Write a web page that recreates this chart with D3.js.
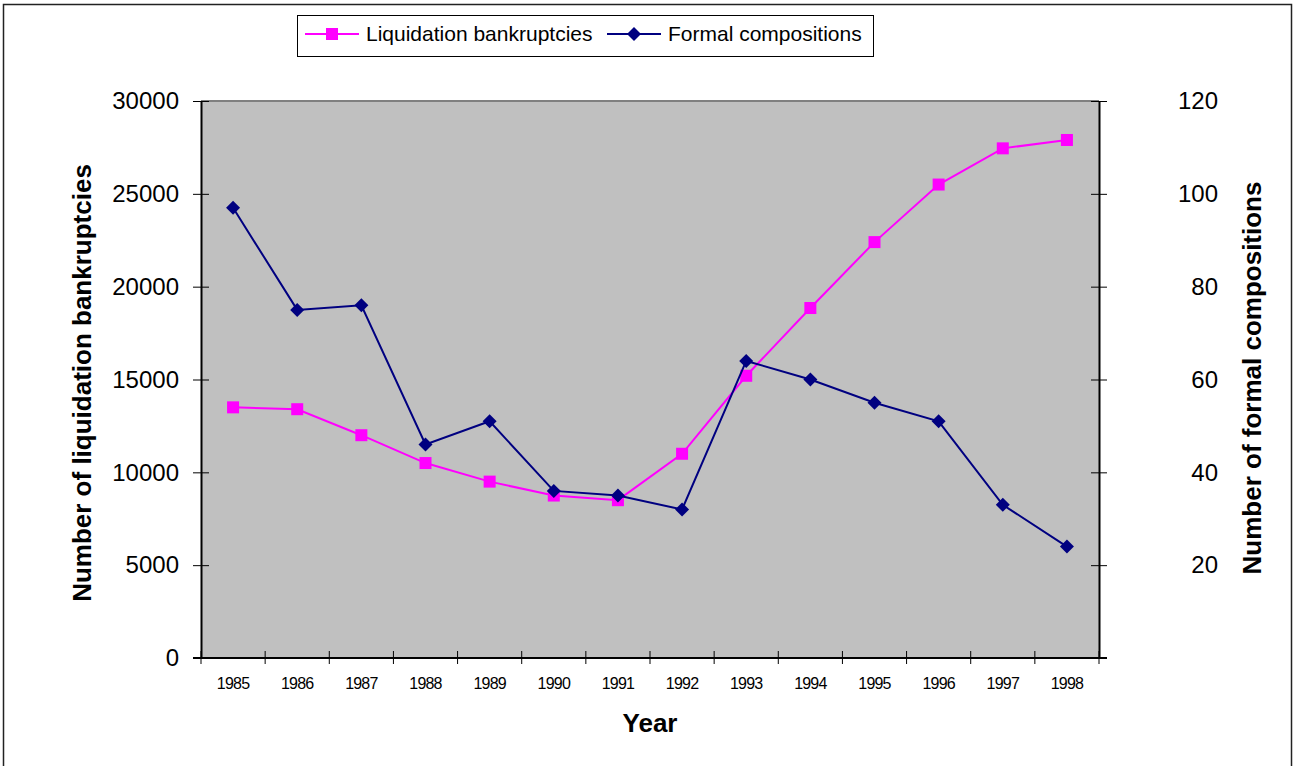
<!DOCTYPE html>
<html><head><meta charset="utf-8">
<script src="https://cdn.jsdelivr.net/npm/d3@7"></script>
<style>body{margin:0;background:#fff}svg{display:block}</style>
</head><body>
<svg id="c" width="1298" height="766"></svg>
<script>
const years = ["1985","1986","1987","1988","1989","1990","1991","1992","1993","1994","1995","1996","1997","1998"];
const liquidation = [13500,13400,12000,10500,9500,8750,8500,11000,15200,18850,22400,25500,27450,27900];
const compositions = [97,75,76,46,51,36,35,32,64,60,55,51,33,24];
const leftTicks = [0,5000,10000,15000,20000,25000,30000];
const rightTicks = [20,40,60,80,100,120];

const svg = d3.select("#c");
const font = "'Liberation Sans', Arial, sans-serif";
const L = 201, R = 1099, T = 101, B = 658;

svg.append("rect").attr("x",3.5).attr("y",4.5).attr("width",1288).attr("height",770)
  .attr("fill","#fff").attr("stroke","#222").attr("stroke-width",1.5);

const x = d3.scaleBand().domain(years).range([L,R]);
const yL = d3.scaleLinear().domain([0,30000]).range([B,T]);
const yR = d3.scaleLinear().domain([0,120]).range([B,T]);

svg.append("rect").attr("x",L).attr("y",T).attr("width",R-L).attr("height",B-T).attr("fill","#C0C0C0");
svg.append("line").attr("x1",L).attr("x2",R).attr("y1",T).attr("y2",T).attr("stroke","#808080").attr("stroke-width",2);

// left axis
const gl = svg.append("g").attr("transform",`translate(${L},0)`)
  .call(d3.axisLeft(yL).tickValues(leftTicks).tickSizeInner(8).tickSizeOuter(0).tickPadding(14).tickFormat(d3.format("d")));
gl.selectAll(".tick line").attr("x2",8).attr("x1",-8);
// right axis
const gr = svg.append("g").attr("transform",`translate(${R},0)`)
  .call(d3.axisRight(yR).tickValues(rightTicks).tickSizeInner(8).tickSizeOuter(0).tickPadding(111).tickFormat(d3.format("d")));
gr.selectAll(".tick line").attr("x1",-8).attr("x2",8);
gr.selectAll(".tick text").attr("text-anchor","end");
[gl,gr].forEach(g=>{
  g.select(".domain").attr("stroke","#000").attr("stroke-width",2);
  g.selectAll(".tick line").attr("stroke","#000");
  g.selectAll(".tick text").attr("font-family",font).attr("font-size",24).attr("fill","#000");
});

// bottom axis
const gb = svg.append("g").attr("transform",`translate(0,${B})`)
  .call(d3.axisBottom(x).tickSize(0).tickPadding(20));
gb.select(".domain").remove();
svg.append("line").attr("x1",L-8).attr("x2",R+8).attr("y1",B).attr("y2",B).attr("stroke","#000").attr("stroke-width",2);
gb.selectAll(".tick text").attr("font-family",font).attr("font-size",16).attr("letter-spacing","-0.8").attr("fill","#000");
const edges = years.map(d=>x(d)).concat([R]);
svg.append("g").selectAll("line").data(edges).join("line")
  .attr("x1",d=>d).attr("x2",d=>d).attr("y1",B-7).attr("y2",B+6).attr("stroke","#000").attr("stroke-width",1);

const cx = d=>x(d)+x.bandwidth()/2;

// liquidation line
svg.append("path").datum(liquidation).attr("fill","none").attr("stroke","#FF00FF").attr("stroke-width",2)
  .attr("d", d3.line().x((d,i)=>cx(years[i])).y(d=>yL(d)));
svg.append("g").selectAll("rect").data(liquidation).join("rect")
  .attr("x",(d,i)=>cx(years[i])-6).attr("y",d=>yL(d)-6).attr("width",12).attr("height",12).attr("fill","#FF00FF");

// compositions line
svg.append("path").datum(compositions).attr("fill","none").attr("stroke","#000080").attr("stroke-width",2)
  .attr("d", d3.line().x((d,i)=>cx(years[i])).y(d=>yR(d)));
const diamond = "M0,-7L7,0L0,7L-7,0Z";
svg.append("g").selectAll("path").data(compositions).join("path")
  .attr("transform",(d,i)=>`translate(${cx(years[i])},${yR(d)})`).attr("d",diamond).attr("fill","#000080");

// axis titles
svg.append("text").attr("transform",`translate(91,383) rotate(-90)`).attr("text-anchor","middle")
  .attr("font-family",font).attr("font-size",26).attr("font-weight","bold").text("Number of liquidation bankruptcies");
svg.append("text").attr("transform",`translate(1261,378) rotate(-90)`).attr("text-anchor","middle")
  .attr("font-family",font).attr("font-size",26).attr("font-weight","bold").text("Number of formal compositions");
svg.append("text").attr("x",650).attr("y",732).attr("text-anchor","middle")
  .attr("font-family",font).attr("font-size",26).attr("font-weight","bold").text("Year");

// legend
const lg = svg.append("g");
lg.append("rect").attr("x",297.5).attr("y",15.5).attr("width",576).attr("height",41).attr("fill","#fff").attr("stroke","#000").attr("stroke-width",1);
const items = [{name:"Liquidation bankruptcies",color:"#FF00FF",shape:"sq",x0:305},{name:"Formal compositions",color:"#000080",shape:"di",x0:607}];
items.forEach(it=>{
  lg.append("line").attr("x1",it.x0).attr("x2",it.x0+54).attr("y1",34).attr("y2",34).attr("stroke",it.color).attr("stroke-width",2);
  if(it.shape==="sq") lg.append("rect").attr("x",it.x0+27-6).attr("y",28).attr("width",12).attr("height",12).attr("fill",it.color);
  else lg.append("path").attr("transform",`translate(${it.x0+27},34)`).attr("d",diamond).attr("fill",it.color);
  lg.append("text").attr("x",it.x0+61).attr("y",41).attr("font-family",font).attr("font-size",21).attr("fill","#000").text(it.name);
});
</script>
</body></html>
